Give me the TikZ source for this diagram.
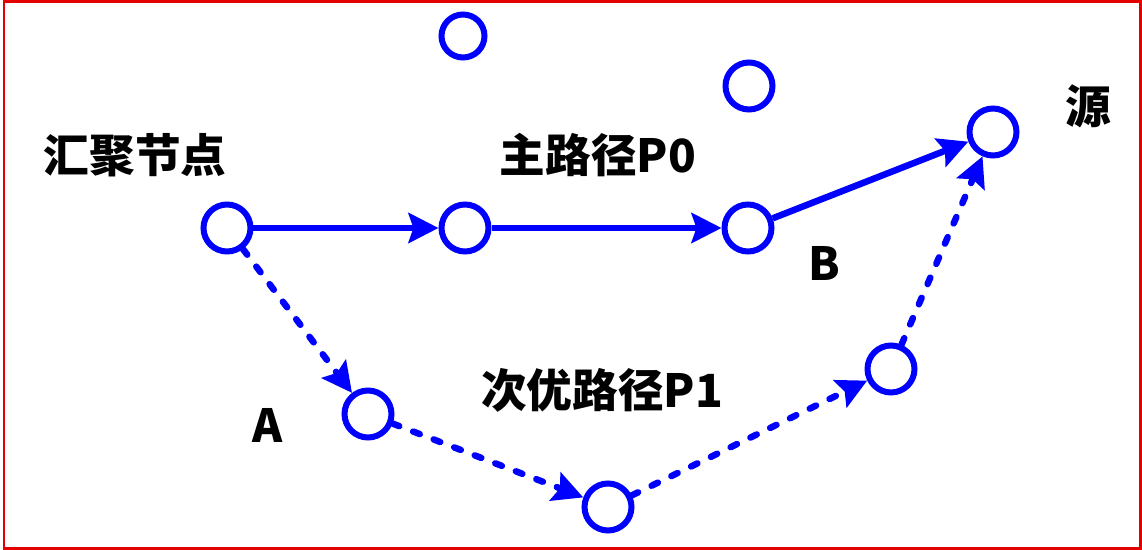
\documentclass[tikz,border=0pt]{standalone}
\usepackage{fontspec}
\newfontfamily\cjk{Noto Sans CJK SC}
\usetikzlibrary{arrows.meta}

\tikzset{
    sensor/.style={circle, draw=blue, line width=0.12cm, minimum size=0.94cm, inner sep=0pt},
    lbl/.style={font=\cjk\bfseries\fontsize{26pt}{30pt}\selectfont, inner sep=0pt},
    mainpath/.style={draw=blue, line width=0.13cm, -{Stealth[length=0.6cm, width=0.6cm, inset=0.1cm]}},
    backup/.style={mainpath, line cap=round, dash pattern=on 0.14cm off 0.3cm}
}

\begin{document}
\begin{tikzpicture}[x=0.02cm, y=-0.02cm]
    % Frame
    \useasboundingbox (0,0) rectangle (1142,550);
    \draw[red!90!black, line width=0.06cm] (4,2) rectangle (1140,548);

    % Sensor nodes
    \node[sensor] (sink) at (227,228) {};
    \node[sensor] (m1) at (465,228) {};
    \node[sensor] (nB) at (748,228) {};
    \node[sensor] (src) at (993,132) {};
    \node[sensor] (nA) at (368,414) {};
    \node[sensor] (b2) at (608,507) {};
    \node[sensor] (b3) at (891,369) {};

    % Idle nodes
    \node[sensor, minimum size=0.86cm] (idle1) at (463,36) {};
    \node[sensor] (idle2) at (749,86) {};

    % Main path P0
    \draw[mainpath] (sink) -- (m1);
    \draw[mainpath] (m1) -- (nB);
    \draw[mainpath] (nB) -- (src);

    % Backup path P1
    \draw[backup] (sink) -- (nA);
    \draw[backup] (nA) -- (b2);
    \draw[backup] (b2) -- (b3);
    \draw[backup] (b3) -- (src);

    % Labels
    \node[lbl] (tsink) at (135,155) {汇聚节点};
    \node[lbl] (tP0) at (598,155) {主路径P0};
    \node[lbl] (tsrc) at (1088,106) {源};
    \node[lbl] (tB) at (824,263) {B};
    \node[lbl] (tA) at (268,425) {A};
    \node[lbl] (tP1) at (602,390) {次优路径P1};

\end{tikzpicture}
\end{document}
